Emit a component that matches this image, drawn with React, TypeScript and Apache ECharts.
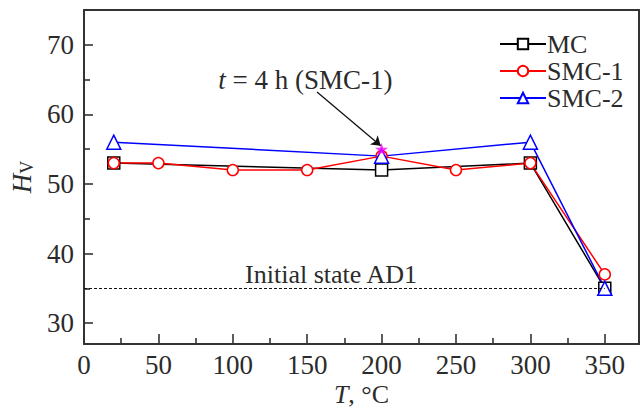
import React, { useEffect, useRef } from "react";
import * as echarts from "echarts";

// ---- data ----
const mcTemps = [20, 200, 300, 350];
const mcValues = [53, 52, 53, 35];
const smc1Temps = [20, 50, 100, 150, 200, 250, 300, 350];
const smc1Values = [53, 53, 52, 52, 54, 52, 53, 37];
const smc2Temps = [20, 200, 300, 350];
const smc2Values = [56, 54, 56, 35];
const starPoint = [200, 55];
const initialStateValue = 35;
const initialStateRange = [0, 350];
const xMajorTicks = [0, 50, 100, 150, 200, 250, 300, 350];
const xMinorTicks = [25, 75, 125, 175, 225, 275, 325];
const yMajorTicks = [30, 40, 50, 60, 70];
const yMinorTicks = [35, 45, 55, 65];
const arrowFrom = [156.6, 63.2];
const annotationPos = [148.8, 65.0];
const initialLabelPos = [166.0, 37.0];

const X_MIN = 0;
const X_MAX = 373;
const Y_MIN = 27;
const Y_MAX = 75;

const W = 642;
const H = 409;
const GRID = { left: 84, right: 3, top: 10, bottom: 65 };

const FONT = "'Liberation Serif', 'Times New Roman', serif";
const TXT = "#2b2b2b";
const AX = "#333";

const zip = (a: number[], b: number[]) => a.map((v, i) => [v, b[i]]);

// convert a tick length in pixels into axis units
const pxPerX = (W - GRID.left - GRID.right) / (X_MAX - X_MIN);
const pxPerY = (H - GRID.top - GRID.bottom) / (Y_MAX - Y_MIN);
const tickStyle = { type: "solid", color: AX, width: 1.6 };
const xTick = (v: number, len: number) => [
  { coord: [v, Y_MIN], symbol: "none", lineStyle: tickStyle },
  { coord: [v, Y_MIN + len / pxPerY], symbol: "none" },
];
const yTick = (v: number, len: number) => [
  { coord: [X_MIN, v], symbol: "none", lineStyle: tickStyle },
  { coord: [X_MIN + len / pxPerX, v], symbol: "none" },
];

export default function App() {
  const ref = useRef<HTMLDivElement>(null);
  useEffect(() => {
    if (!ref.current) return;
    const chart = echarts.init(ref.current, undefined, { renderer: "svg" });
    const xBase = { type: "value", min: X_MIN, max: X_MAX };
    const yBase = { type: "value", min: Y_MIN, max: Y_MAX };
    chart.setOption({
      animation: false,
      backgroundColor: "#fff",
      textStyle: { fontFamily: FONT },
      grid: {
        ...GRID,
        show: false,
        containLabel: false,
        outerBoundsMode: "none",
      },
      legend: {
        data: ["MC", "SMC-1", "SMC-2"],
        orient: "vertical",
        left: 494,
        top: 26,
        itemWidth: 46,
        itemHeight: 13,
        itemGap: 1,
        textStyle: { fontFamily: FONT, fontSize: 26, color: TXT, lineHeight: 25, padding: [0, 0, 0, -4] },
      },
      xAxis: [
        {
          ...xBase,
          position: "bottom",
          name: "{i|T}, °C",
          nameLocation: "middle",
          nameGap: 39,
          nameMoveOverlap: false,
          nameTextStyle: {
            fontFamily: FONT,
            fontSize: 26,
            lineHeight: 22,
            color: TXT,
            rich: { i: { fontFamily: FONT, fontSize: 26, lineHeight: 22, fontStyle: "italic", color: TXT } },
          },
          axisLine: { show: true, onZero: false, lineStyle: { color: AX, width: 2 } },
          axisTick: { show: false },
          axisLabel: { show: true, customValues: xMajorTicks, fontFamily: FONT, fontSize: 27, lineHeight: 26, color: TXT, margin: 8 },
          splitLine: { show: false },
        },
        {
          ...xBase,
          position: "top",
          axisLine: { show: true, onZero: false, lineStyle: { color: AX, width: 2 } },
          axisTick: { show: false },
          axisLabel: { show: false },
          splitLine: { show: false },
        },
      ],
      yAxis: [
        {
          ...yBase,
          position: "left",
          name: "{i|H}{s|V}",
          nameLocation: "middle",
          nameRotate: 90,
          nameGap: 44,
          nameTextStyle: {
            fontFamily: FONT,
            fontSize: 27,
            color: TXT,
            rich: {
              i: { fontFamily: FONT, fontSize: 27, fontStyle: "italic", color: TXT },
              s: { fontFamily: FONT, fontSize: 18, color: TXT, padding: [10, 0, 0, 0] },
            },
          },
          axisLine: { show: true, onZero: false, lineStyle: { color: AX, width: 2 } },
          axisTick: { show: false },
          axisLabel: { show: true, customValues: yMajorTicks, fontFamily: FONT, fontSize: 27, color: TXT, margin: 10 },
          splitLine: { show: false },
        },
        {
          ...yBase,
          position: "right",
          axisLine: { show: true, onZero: false, lineStyle: { color: AX, width: 2 } },
          axisTick: { show: false },
          axisLabel: { show: false },
          splitLine: { show: false },
        },
      ],
      series: [
        {
          name: "helper",
          type: "line",
          data: [],
          silent: true,
          markLine: {
            silent: true,
            animation: false,
            label: { show: false },
            data: [
              ...xMajorTicks.map((v) => xTick(v, 10)),
              ...xMinorTicks.map((v) => xTick(v, 6)),
              ...yMajorTicks.map((v) => yTick(v, 9)),
              ...yMinorTicks.map((v) => yTick(v, 6)),
              [
                { coord: [initialStateRange[0], initialStateValue], symbol: "none", lineStyle: { type: [3, 2], color: "#111", width: 1 } },
                { coord: [initialStateRange[1], initialStateValue], symbol: "none" },
              ],
              [
                { coord: arrowFrom, symbol: "none", lineStyle: { type: "solid", color: "#111", width: 1.3 } },
                { coord: [starPoint[0] - 0.6, starPoint[1] + 0.5], symbol: "arrow", symbolSize: 9 },
              ],
            ],
          },
          markPoint: {
            silent: true,
            animation: false,
            symbol: "circle",
            symbolSize: 0,
            data: [
              {
                coord: annotationPos,
                label: {
                  show: true,
                  position: "inside",
                  formatter: "{i|t} = 4 h (SMC-1)",
                  fontFamily: FONT,
                  fontSize: 27,
                  color: TXT,
                  rich: { i: { fontFamily: FONT, fontSize: 27, fontStyle: "italic", color: TXT } },
                },
              },
              {
                coord: initialLabelPos,
                label: {
                  show: true,
                  position: "inside",
                  formatter: "Initial state AD1",
                  fontFamily: FONT,
                  fontSize: 26,
                  color: TXT,
                },
              },
            ],
          },
        },
        {
          name: "MC",
          type: "line",
          data: zip(mcTemps, mcValues),
          symbol: "rect",
          symbolSize: 12,
          lineStyle: { color: "#000", width: 1.5 },
          itemStyle: { color: "#fff", borderColor: "#000", borderWidth: 1.5 },
        },
        {
          name: "SMC-1",
          type: "line",
          data: zip(smc1Temps, smc1Values),
          symbol: "circle",
          symbolSize: 11,
          lineStyle: { color: "#ff0000", width: 1.5 },
          itemStyle: { color: "#fff", borderColor: "#ff0000", borderWidth: 1.5 },
        },
        {
          name: "SMC-2",
          type: "line",
          data: zip(smc2Temps, smc2Values),
          symbol: "triangle",
          symbolSize: 14,
          lineStyle: { color: "#0000ff", width: 1.5 },
          itemStyle: { color: "#fff", borderColor: "#0000ff", borderWidth: 1.5 },
        },
        {
          name: "star",
          type: "scatter",
          data: [starPoint],
          symbol: "path://M50,0 L61,35 L98,35 L68,57 L79,91 L50,70 L21,91 L32,57 L2,35 L39,35 Z",
          symbolSize: 13,
          itemStyle: { color: "#ff00ff" },
          z: 5,
        },
      ],
    });
    return () => chart.dispose();
  }, []);
  return (
    <div
      ref={ref}
      style={{ position: "fixed", left: 0, top: 0, width: W, height: H }}
    />
  );
}
